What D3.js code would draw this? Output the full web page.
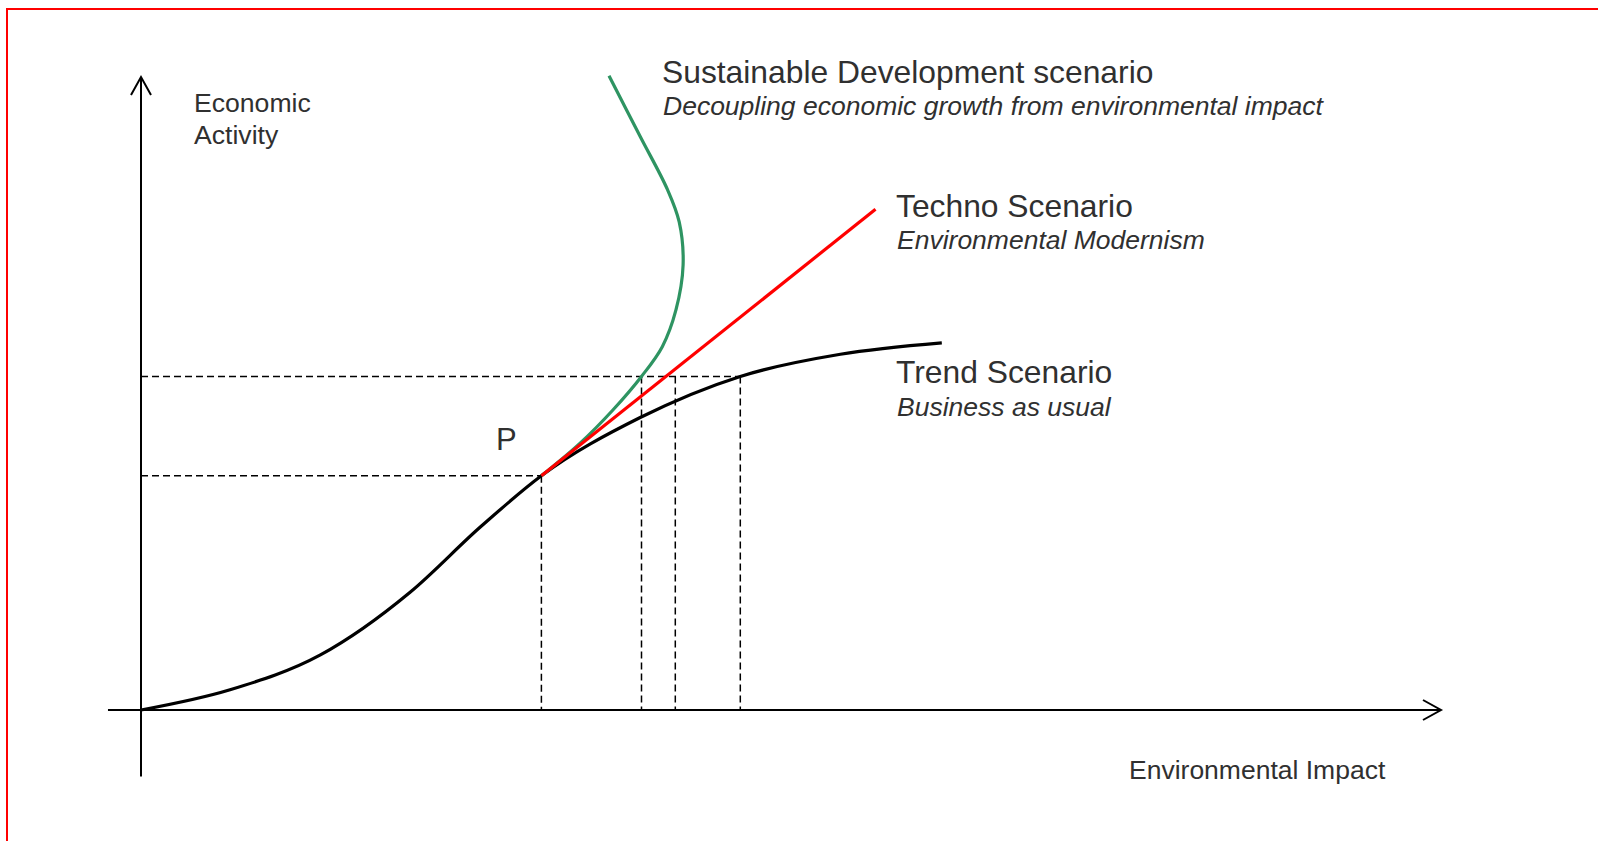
<!DOCTYPE html>
<html>
  <head>
    <meta charset="utf-8">
    <title>Economic activity and environmental impact</title>
    <script src="https://cdn.jsdelivr.net/npm/d3@7"></script>
    <style>
      body { margin: 0; background: #fff; }
      svg { display: block; }
      text { font-family: "Liberation Sans", Arial, sans-serif; fill: #303030; }
      .sub { font-style: italic; }
      .guide { stroke: #000; stroke-width: 1.5; stroke-dasharray: 7 4; fill: none; }
      .axis { stroke: #000; stroke-width: 2; fill: none; }
    </style>
  </head>
  <body>
    <svg id="chart" width="1598" height="841"></svg>
    <script>
      // data (units 0-100 on each axis)
      var trendX = [0, 6.85, 13.8, 20.7, 26.1, 30.8, 38.4, 46.1, 53.8, 61.6];
      var trendY = [0, 3.2, 8.7, 18.6, 28.9, 37.0, 46.2, 52.7, 56.2, 58.0];
      var technoX = [30.8, 56.5];
      var technoY = [37.0, 79.1];
      var sustainX = [30.8, 33.8, 36.3, 38.5, 40.1, 41.15, 41.7, 41.4, 40.5, 38.4, 36.0];
      var sustainY = [37.0, 42.2, 47.4, 52.7, 57.4, 63.2, 70.3, 77.1, 82.2, 90.6, 100.2];
      // dashed guides
      var levelY = [37.0, 52.7];
      var levelEnd = [30.8, 46.1];
      var guideX = [30.8, 38.5, 41.1, 46.1];
      var guideTop = [37.0, 52.7, 52.7, 52.7];
      // text
      var yTitle = ["Economic", "Activity"];
      var xTitle = "Environmental Impact";
      var scenarioNames = ["Sustainable Development scenario", "Techno Scenario", "Trend Scenario"];
      var scenarioSubs = ["Decoupling economic growth from environmental impact", "Environmental Modernism", "Business as usual"];

      var svg = d3.select("#chart");
      var x = d3.scaleLinear().domain([0, 100]).range([141, 1441]);
      var y = d3.scaleLinear().domain([0, 100]).range([710, 77]);

      // frame
      svg.append("rect")
        .attr("x", 7).attr("y", 9)
        .attr("width", 1700).attr("height", 900)
        .attr("fill", "none").attr("stroke", "#ff0000").attr("stroke-width", 2);

      // dashed guides
      var g = svg.append("g");
      levelY.forEach(function(v, i) {
        g.append("line").attr("class", "guide")
          .attr("x1", x(0)).attr("x2", x(levelEnd[i]))
          .attr("y1", y(v)).attr("y2", y(v));
      });
      guideX.forEach(function(v, i) {
        g.append("line").attr("class", "guide")
          .attr("x1", x(v)).attr("x2", x(v))
          .attr("y1", y(guideTop[i])).attr("y2", y(0));
      });

      // axes
      svg.append("line").attr("class", "axis")
        .attr("x1", x(-2.54)).attr("x2", x(100))
        .attr("y1", y(0)).attr("y2", y(0));
      svg.append("line").attr("class", "axis")
        .attr("x1", x(0)).attr("x2", x(0))
        .attr("y1", y(-10.5)).attr("y2", y(100));
      svg.append("path").attr("class", "axis")
        .attr("d", "M" + (x(100) - 18) + "," + (y(0) - 10) + "L" + x(100) + "," + y(0) + "L" + (x(100) - 18) + "," + (y(0) + 10));
      svg.append("path").attr("class", "axis")
        .attr("d", "M" + (x(0) - 10) + "," + (y(100) + 18) + "L" + x(0) + "," + y(100) + "L" + (x(0) + 10) + "," + (y(100) + 18));

      // scenario lines
      function pts(xs, ys) { return xs.map(function(v, i) { return [v, ys[i]]; }); }
      var trendLine = d3.line()
        .x(function(d) { return x(d[0]); })
        .y(function(d) { return y(d[1]); })
        .curve(d3.curveMonotoneX);
      var line = d3.line()
        .x(function(d) { return x(d[0]); })
        .y(function(d) { return y(d[1]); })
        .curve(d3.curveCatmullRom.alpha(0.5));

      svg.append("path")
        .attr("d", trendLine(pts(trendX, trendY)))
        .attr("fill", "none").attr("stroke", "#000").attr("stroke-width", 3.2);
      svg.append("path")
        .attr("d", line(pts(sustainX, sustainY)))
        .attr("fill", "none").attr("stroke", "#2e9462").attr("stroke-width", 3.2);
      svg.append("path")
        .attr("d", line(pts(technoX, technoY)))
        .attr("fill", "none").attr("stroke", "#ff0000").attr("stroke-width", 3.2);

      // labels
      svg.selectAll(".ytitle")
        .data(yTitle)
        .enter().append("text")
          .attr("x", 194)
          .attr("y", function(d, i) { return 112 + i * 32; })
          .style("font-size", "26.6px")
          .text(function(d) { return d; });
      svg.append("text")
        .attr("x", 1129).attr("y", 779)
        .style("font-size", "26.5px")
        .text(xTitle);
      svg.append("text")
        .attr("x", 496).attr("y", 450)
        .style("font-size", "31px")
        .text("P");

      var labelPos = [[662, 83, 115], [896, 217, 249], [896, 383, 416]];
      labelPos.forEach(function(p, i) {
        svg.append("text")
          .attr("x", p[0]).attr("y", p[1])
          .style("font-size", "31.8px")
          .text(scenarioNames[i]);
        svg.append("text").attr("class", "sub")
          .attr("x", p[0] + 1).attr("y", p[2])
          .style("font-size", "26.5px")
          .text(scenarioSubs[i]);
      });
    </script>
  </body>
</html>
